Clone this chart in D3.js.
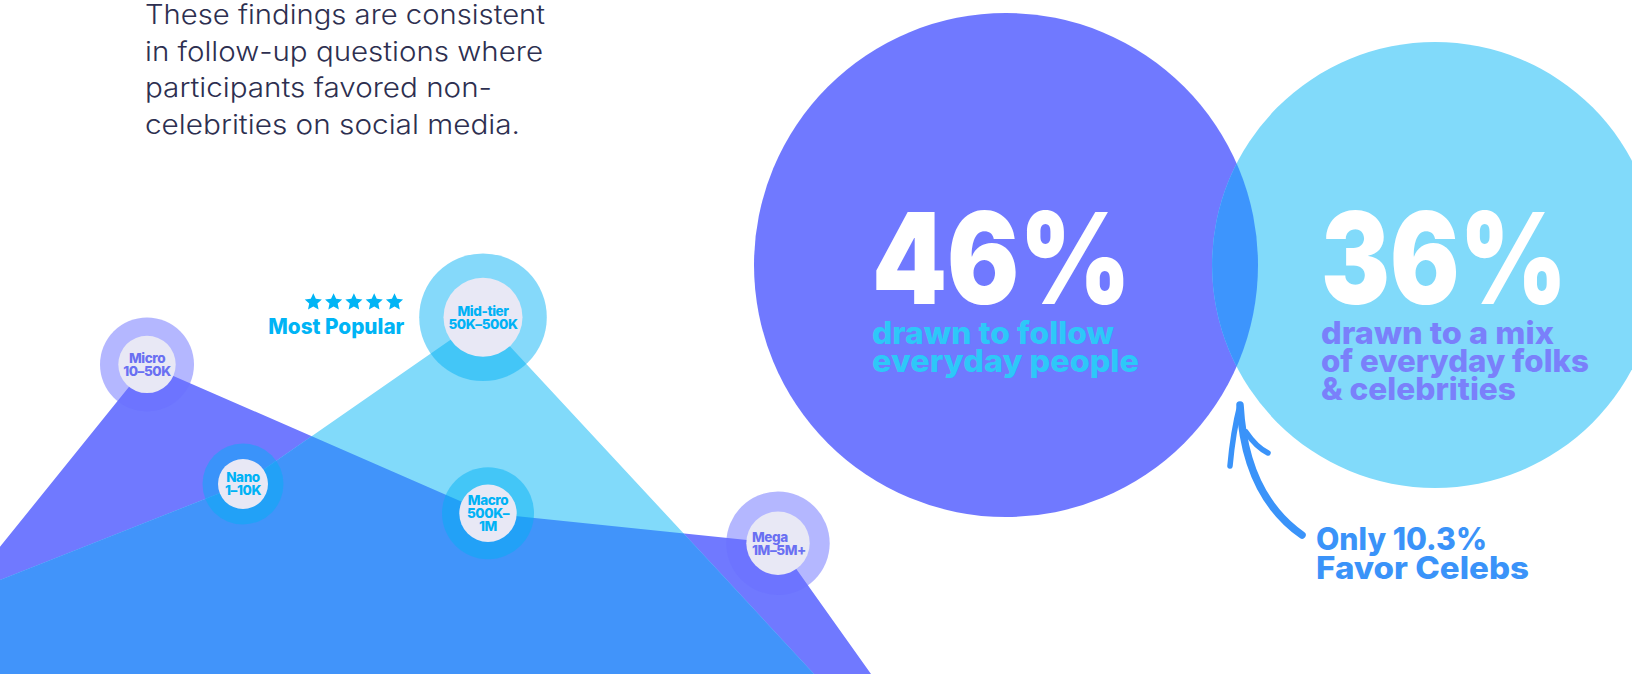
<!DOCTYPE html>
<html>
<head>
<meta charset="utf-8">
<script src="https://cdn.jsdelivr.net/npm/d3@7"></script>
<style>
  html, body { margin: 0; padding: 0; background: #fff; }
  svg { display: block; }
</style>
</head>
<body>
<svg id="chart" width="1632" height="674"></svg>
<script>
// influencer tiers sitting on the ridges of the area chart
const tiers = ["Nano", "Micro", "Mid-tier", "Macro", "Mega"];
const tierRanges = [["1–10K"], ["10–50K"], ["50K–500K"], ["500K–", "1M"], ["1M–5M+"]];
const tierPos = [24.3, 14.7, 48.3, 48.8, 77.8];
const tierScore = [47.5, 77.4, 89.2, 40.2, 32.7];
const tierTone = ["cyan", "purple", "cyan", "cyan", "purple"];

// the two ridges (position, score)
const purpleRidgeX = [0, 14.7, 48.8, 77.8, 87.1];
const purpleRidgeY = [31.8, 77.4, 40.2, 32.7, 0];
const blueRidgeX = [0, 24.3, 48.3, 81.4];
const blueRidgeY = [23.5, 47.5, 89.2, 0];

const popularTier = "Mid-tier";
const popularStars = 5;

// who people are drawn to follow
const prefShares = [46, 36];
const prefLabels = ["46%", "36%"];
const prefText = [
  ["drawn to follow", "everyday people"],
  ["drawn to a mix", "of everyday folks", "& celebrities"]
];
const celebShare = 10.3;
const celebText = ["Only " + celebShare + "%", "Favor Celebs"];

const intro = [
  "These findings are consistent",
  "in follow-up questions where",
  "participants favored non-",
  "celebrities on social media."
];

// ---- layout / styles ----
const W = 1632, H = 674;
const BOLD = "Inter, 'Noto Sans', sans-serif";
const colors = {
  purple: "#7079ff",
  blue: "#81dafa",
  overlap: "#4194fa",
  circleOverlap: "#3d95fd",
  ringPurple: "rgba(106,112,255,0.5)",
  ringCyan: "rgba(0,175,245,0.48)",
  inner: "#e8e8f5",
  labelPurple: "#6a70f2",
  labelCyan: "#00b2f5",
  star: "#00b4f5",
  text: "#2d2f50"
};
const ringSize = { Nano: [40.5, 25], Micro: [47, 28.7], "Mid-tier": [63.8, 39.5], Macro: [46, 28.7], Mega: [51.7, 31.7] };

const svg = d3.select("#chart");

const x = d3.scaleLinear().domain([0, 100]).range([0, 1000]);
const y = d3.scaleLinear().domain([0, 100]).range([H, 274]);

const area = d3.area()
  .x(d => x(d[0]))
  .y0(y(0))
  .y1(d => y(d[1]));

const purplePts = d3.zip(purpleRidgeX, purpleRidgeY);
const bluePts = d3.zip(blueRidgeX, blueRidgeY);

const defs = svg.append("defs");
defs.append("clipPath").attr("id", "purpleClip")
  .append("path").attr("d", area(purplePts));

// areas
svg.append("path").attr("d", area(purplePts)).attr("fill", colors.purple);
svg.append("path").attr("d", area(bluePts)).attr("fill", colors.blue);
svg.append("path").attr("d", area(bluePts)).attr("fill", colors.overlap)
  .attr("clip-path", "url(#purpleClip)");

// tier markers
const tierData = tiers.map((t, i) => ({
  name: t, range: tierRanges[i], pos: tierPos[i], score: tierScore[i], tone: tierTone[i]
}));

const marker = svg.selectAll(".tier")
  .data(tierData)
  .enter()
  .append("g")
  .attr("class", "tier")
  .attr("transform", d => `translate(${x(d.pos)}, ${y(d.score)})`);

marker.append("circle")
  .attr("r", d => ringSize[d.name][0])
  .attr("fill", d => d.tone === "purple" ? colors.ringPurple : colors.ringCyan);
marker.append("circle")
  .attr("r", d => ringSize[d.name][1])
  .attr("fill", colors.inner);

marker.each(function (d) {
  const g = d3.select(this);
  const lines = [d.name].concat(d.range);
  const lh = 13;
  const leftAlign = d.name === "Mega";
  const top = -((lines.length - 1) * lh) / 2 + 4.8;
  g.selectAll("text")
    .data(lines)
    .enter()
    .append("text")
    .attr("x", leftAlign ? -26 : 0)
    .attr("y", (l, i) => top + i * lh)
    .attr("text-anchor", leftAlign ? "start" : "middle")
    .attr("font-family", BOLD)
    .attr("font-weight", 800)
    .attr("font-size", 13.5)
    .attr("letter-spacing", -0.4)
    .attr("fill", d.tone === "purple" ? colors.labelPurple : colors.labelCyan)
    .text(l => l);
});

// most popular badge
const pop = tierData.find(d => d.name === popularTier);
const badgeX = x(pop.pos) - 78.7;
const badgeY = y(pop.score) + 17;
svg.append("text")
  .attr("x", badgeX)
  .attr("y", badgeY)
  .attr("text-anchor", "end")
  .attr("font-family", BOLD)
  .attr("font-weight", 800)
  .attr("font-size", 21)
  .attr("textLength", 136)
  .attr("lengthAdjust", "spacingAndGlyphs")
  .attr("fill", colors.star)
  .text("Most Popular");

const starShape = d3.lineRadial()
  .angle((d, i) => i * Math.PI / 5)
  .radius((d, i) => i % 2 ? 4.3 : 9)
  .curve(d3.curveLinearClosed);
const starX = d3.scaleLinear().domain([0, popularStars - 1]).range([badgeX - 91, badgeX - 9.8]);
svg.selectAll(".star")
  .data(d3.range(popularStars))
  .enter()
  .append("path")
  .attr("class", "star")
  .attr("d", starShape(d3.range(10)))
  .attr("transform", i => `translate(${starX(i)}, ${badgeY - 32})`)
  .attr("fill", colors.star);

// preference circles
const rScale = d3.scaleSqrt().domain([0, d3.max(prefShares)]).range([0, 252]);
const cx = d3.scalePoint().domain(prefLabels).range([1006, 1435]);
const cy = 265;

svg.append("clipPath").attr("id", "bigClip")
  .append("circle")
  .attr("cx", cx(prefLabels[0])).attr("cy", cy).attr("r", rScale(prefShares[0]));

svg.append("circle")
  .attr("cx", cx(prefLabels[0])).attr("cy", cy).attr("r", rScale(prefShares[0]))
  .attr("fill", colors.purple);
svg.append("circle")
  .attr("cx", cx(prefLabels[1])).attr("cy", cy).attr("r", rScale(prefShares[1]))
  .attr("fill", colors.blue);
svg.append("circle")
  .attr("cx", cx(prefLabels[1])).attr("cy", cy).attr("r", rScale(prefShares[1]))
  .attr("fill", colors.circleOverlap)
  .attr("clip-path", "url(#bigClip)");

const bigText = [
  { dx: -134, big: 259, lines: [242, 267], color: "#2dc8f8" },
  { dx: -114, big: 246, lines: [233, 268, 195], color: "#7a80fa" }
];
prefLabels.forEach((label, i) => {
  const bx = cx(label) + bigText[i].dx;
  svg.append("text")
    .attr("x", bx)
    .attr("y", 303.5)
    .attr("font-family", BOLD)
    .attr("font-weight", 900)
    .attr("font-size", 127)
    .attr("textLength", bigText[i].big)
    .attr("lengthAdjust", "spacingAndGlyphs")
    .attr("fill", "#fff")
    .text(label);
  prefText[i].forEach((line, j) => {
    svg.append("text")
      .attr("x", bx)
      .attr("y", 344 + j * 27.8)
      .attr("font-family", BOLD)
      .attr("font-weight", 800)
      .attr("font-size", 31)
      .attr("textLength", bigText[i].lines[j])
      .attr("lengthAdjust", "spacingAndGlyphs")
      .attr("fill", bigText[i].color)
      .text(line);
  });
});

// arrow pointing at the overlap
const arrowColor = "#3a93f9";
const arrow = svg.append("g")
  .attr("fill", "none")
  .attr("stroke", arrowColor)
  .attr("stroke-linecap", "round");
arrow.append("path")
  .attr("d", "M1302,535 Q1245,495 1240,405")
  .attr("stroke-width", 7.5);
arrow.append("path")
  .attr("d", "M1240,405 Q1233,432 1230,466")
  .attr("stroke-width", 5.5);
arrow.append("path")
  .attr("d", "M1246,432 Q1256,447 1268,453")
  .attr("stroke-width", 5.5);

celebText.forEach((line, j) => {
  svg.append("text")
    .attr("x", 1316)
    .attr("y", 550 + j * 29.3)
    .attr("font-family", BOLD)
    .attr("font-weight", 800)
    .attr("font-size", 31)
    .attr("textLength", [171, 213][j])
    .attr("lengthAdjust", "spacingAndGlyphs")
    .attr("fill", arrowColor)
    .text(line);
});

// intro paragraph
const introWidths = [400, 398, 347, 375];
svg.selectAll(".intro")
  .data(intro)
  .enter()
  .append("text")
  .attr("class", "intro")
  .attr("x", 145)
  .attr("y", (d, i) => 24 + i * 36.7)
  .attr("font-family", "Inter, 'Open Sans', sans-serif")
  .attr("font-weight", 300)
  .attr("font-size", 27)
  .attr("textLength", (d, i) => introWidths[i])
  .attr("lengthAdjust", "spacingAndGlyphs")
  .attr("fill", colors.text)
  .text(d => d);
</script>
</body>
</html>
